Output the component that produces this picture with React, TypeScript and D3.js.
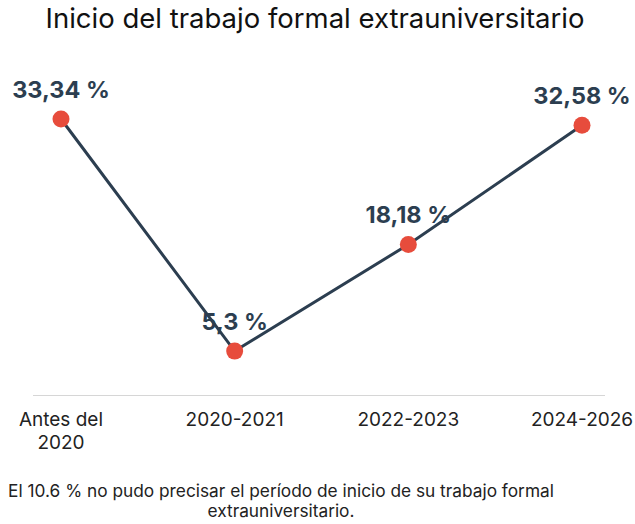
import React from "react";
import * as d3 from "d3";

const categories: string[][] = [["Antes del", "2020"], ["2020-2021"], ["2022-2023"], ["2024-2026"]];
const values: number[] = [33.34, 5.3, 18.18, 32.58];
const valueLabels: string[] = ["33,34 %", "5,3 %", "18,18 %", "32,58 %"];
const title = "Inicio del trabajo formal extrauniversitario";
const footnote: string[] = [
  "El 10.6 % no pudo precisar el período de inicio de su trabajo formal",
  "extrauniversitario.",
];

const W = 635;
const H = 524;

export default function App() {
  const x = d3.scalePoint<number>().domain(d3.range(categories.length)).range([61, 582]);
  const y = d3.scaleLinear().domain([0, 33.34]).range([395, 119]);
  const line = d3
    .line<number>()
    .x((_, i) => x(i)!)
    .y((d) => y(d));
  const font = "Inter, 'Noto Sans', sans-serif";
  return (
    <svg
      width={W}
      height={H}
      style={{ position: "absolute", left: 0, top: 0, background: "#fff" }}
      fontFamily={font}
    >
      <text x={315} y={28} textAnchor="middle" fontSize={27.5} fill="#111">
        {title}
      </text>
      <line x1={33} x2={605} y1={395.5} y2={395.5} stroke="#d6d6d6" strokeWidth={1} />
      <path d={line(values)!} fill="none" stroke="#2c3e50" strokeWidth={3} />
      {values.map((v, i) => (
        <circle key={i} cx={x(i)!} cy={y(v)} r={8.5} fill="#e74c3c" />
      ))}
      {values.map((v, i) => (
        <text
          key={i}
          x={x(i)!}
          y={y(v) - 21}
          textAnchor="middle"
          fontSize={23.5}
          fontWeight={700}
          fill="#2c3e50"
        >
          {valueLabels[i]}
        </text>
      ))}
      {categories.map((lines, i) =>
        lines.map((t, j) => (
          <text
            key={i + "-" + j}
            x={x(i)!}
            y={426 + j * 23}
            textAnchor="middle"
            fontSize={19}
            fill="#222"
          >
            {t}
          </text>
        ))
      )}
      {footnote.map((t, j) => (
        <text key={j} x={281} y={497 + j * 20} textAnchor="middle" fontSize={17.3} fill="#222">
          {t}
        </text>
      ))}
    </svg>
  );
}
